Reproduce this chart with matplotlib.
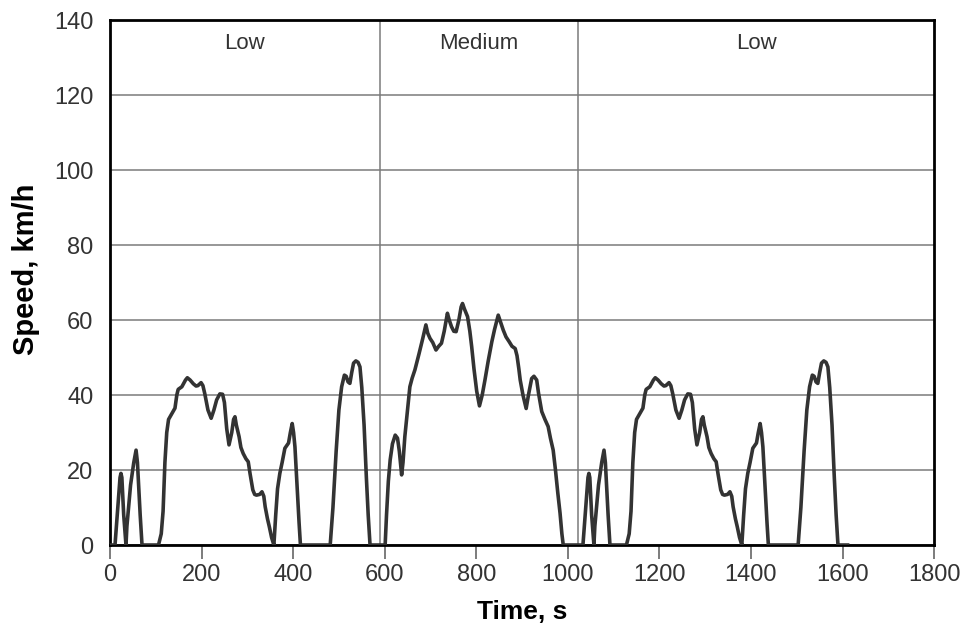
import numpy as np
import matplotlib
matplotlib.use("Agg")
from matplotlib import pyplot as plt

plt.rcParams['font.family'] = ['Liberation Sans', 'DejaVu Sans']

# WLTC class 1 cycle: Low - Medium - Low (repeated)
phase_ends = [589, 1022, 1611]
phase_names = ['Low', 'Medium', 'Low']

# low phase speed trace, s / km/h
low_t = [0, 11, 17, 22, 24, 26, 30, 35, 37, 45, 52, 57, 60, 66, 70,
         106, 112, 116, 120, 124, 128, 135, 142, 146, 149, 157, 165, 169, 175,
         182, 188, 192, 199, 203, 207, 214, 221, 227, 233, 240, 246, 250, 255,
         260, 266, 270, 273, 276, 282, 286, 291, 297, 302, 306, 312, 316, 320,
         327, 332, 336, 339, 344, 348, 353, 358,
         362, 366, 371, 376, 382, 386, 390, 394, 398, 401, 404, 409, 413, 416,
         481, 487, 494, 500, 506, 512, 516, 520, 524, 528, 532, 537, 542, 546,
         550, 555, 560, 564, 568, 589]
low_v = [0, 0, 10, 18, 19.1, 18, 8, 0, 5, 16, 22, 25.3, 22, 8, 0,
         0, 3, 9, 22, 30, 33.5, 35, 36.5, 40, 41.5, 42.2, 44, 44.6, 44,
         43, 42.4, 42.5, 43.3, 42.5, 40.4, 36, 33.8, 36, 38.7, 40.3, 40.2, 38, 31,
         26.7, 30, 33.5, 34.2, 32, 28.9, 26, 24.4, 23, 22.2, 19, 14.7, 13.5, 13.3,
         13.5, 14.2, 13, 10.2, 7, 4.9, 2, 0,
         8, 15, 19.1, 22, 25.8, 26.5, 27.2, 30, 32.4, 30, 26.2, 15, 6, 0,
         0, 10, 25, 36, 42.2, 45.3, 45, 43.5, 43.1, 46, 48.5, 49.1, 48.7, 47.5,
         42, 32, 18, 8, 0, 0]

# medium phase speed trace
med_t = [601, 604, 608, 612, 617, 623, 628, 632, 637, 640, 644, 650, 655, 660,
         666, 675, 683, 690, 694, 699, 705, 712, 718, 724, 730, 737, 741, 746,
         751, 756, 762, 767, 770, 774, 781, 786, 790, 795, 801, 807, 813, 819,
         826, 834, 840, 848, 853, 859, 865, 872, 878, 885, 889, 893, 896, 902,
         909, 914, 921, 926, 932, 936, 943, 950, 957, 962, 968, 973, 978, 983,
         987, 990, 1022]
med_v = [0, 8, 17, 22.7, 27, 29.3, 28.5, 25, 18.7, 22, 28.9, 36, 42.2, 44.5,
         46.7, 51, 55, 58.7, 56.5, 55.1, 54, 52, 53, 53.8, 57, 61.8, 60, 58.2,
         57, 56.9, 60, 63.5, 64.4, 63, 60.9, 57, 52.9, 47, 41, 37.1, 40, 44,
         49, 54.2, 57.5, 61.3, 59.5, 57.3, 55.5, 54.2, 53, 52.4, 50.5, 47, 44, 40,
         36.4, 40, 44.4, 45, 44, 40.5, 35.6, 33.5, 31.6, 28.5, 25.3, 20, 14, 8.5,
         3, 0, 0]

t = np.concatenate([low_t, med_t, np.array(low_t[1:]) + phase_ends[1]])
v = np.concatenate([low_v, med_v, low_v[1:]])

fig, ax = plt.subplots(figsize=(9.68, 6.35), dpi=100)
fig.subplots_adjust(left=0.1136, right=0.965, top=0.9685, bottom=0.1417)

ax.plot(t, v, color='#333333', lw=2.6, zorder=3, solid_joinstyle='round')

ax.set_xlim(0, 1800)
ax.set_ylim(0, 140)
ax.set_xticks(np.arange(0, 1801, 200))
ax.set_yticks(np.arange(0, 141, 20))
ax.yaxis.grid(True, color='#7a7a7a', lw=1.1)
for x in phase_ends[:2]:
    ax.axvline(x, color='#7a7a7a', lw=1.1, zorder=1)

# phase names centred in each section
bounds = [0, phase_ends[0], phase_ends[1], 1800]
for i, name in enumerate(phase_names):
    ax.text((bounds[i] + bounds[i + 1]) / 2, 133.8, name, ha='center', va='center',
            fontsize=16, color='#333333')

for s in ax.spines.values():
    s.set_linewidth(2)
    s.set_color('black')
ax.tick_params(axis='x', length=10, width=1.2, color='#666666', pad=4,
               labelsize=17, labelcolor='#333333')
ax.tick_params(axis='y', length=0, pad=12, labelsize=17, labelcolor='#333333')

ax.set_xlabel('Time, s', fontsize=19, fontweight='bold', labelpad=10)
ax.set_ylabel('Speed, km/h', fontsize=21, fontweight='bold', labelpad=10)
ax.yaxis.set_label_coords(-0.085, 0.525)

plt.savefig('out.png', dpi=100)
